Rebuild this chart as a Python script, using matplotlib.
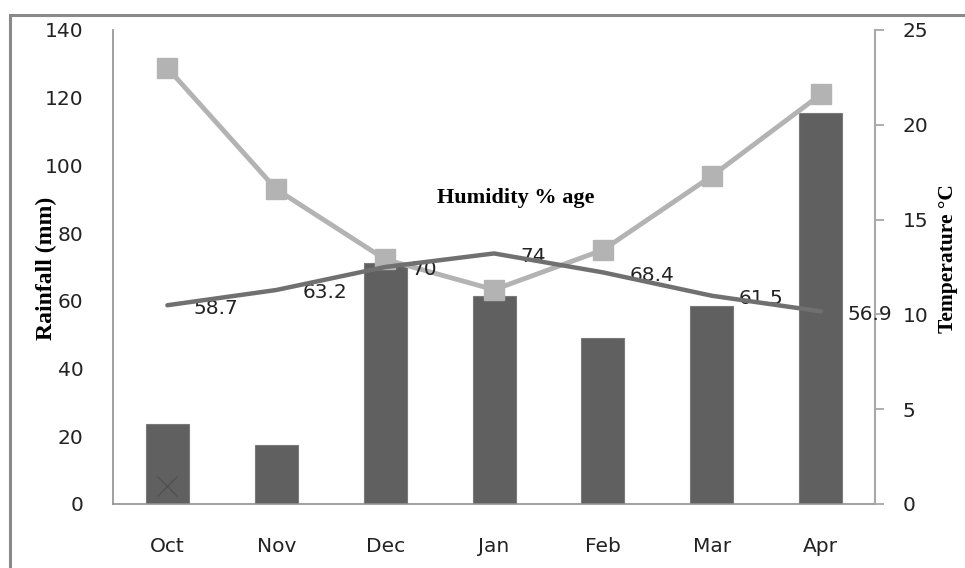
import numpy as np
import matplotlib.pyplot as plt
from matplotlib.patches import Rectangle

months = ['Oct', 'Nov', 'Dec', 'Jan', 'Feb', 'Mar', 'Apr']
rainfall = [23.5, 17.5, 71.2, 61.5, 49, 58.5, 115.5]
humidity = [58.7, 63.2, 70, 74, 68.4, 61.5, 56.9]
temperature = [23.0, 16.6, 12.9, 11.3, 13.4, 17.3, 21.6]
cross_vals = [5.3, np.nan, np.nan, np.nan, np.nan, np.nan, np.nan]

plt.rcParams['font.family'] = ['DejaVu Sans']

fig = plt.figure(figsize=(9.65, 5.68), dpi=100)
ax = fig.add_axes([0.117, 0.1127, 0.79, 0.8345])
x = np.arange(len(months))

# balken curah hujan
ax.bar(x, rainfall, width=0.395, color='#606060', edgecolor='#7a7a7a', linewidth=0.8, zorder=2)
ax.plot(x, cross_vals, linestyle='none', marker='x', markersize=15, markeredgewidth=1.0,
        color='#505050', zorder=3)
ax.set_xlim(-0.5, 6.5)
ax.set_ylim(0, 140)
ax.set_yticks(range(0, 141, 20))
ax.set_xticks(x)
ax.set_xticklabels(months)
ax.tick_params(axis='y', length=0, pad=21, labelsize=14.5, labelcolor='#222222')
ax.tick_params(axis='x', length=0, pad=24, labelsize=14.5, labelcolor='#222222')
for s in ['top', 'right']:
    ax.spines[s].set_visible(False)
ax.spines['left'].set_color('#909090')
ax.spines['bottom'].set_color('#909090')
ax.spines['left'].set_linewidth(1.2)
ax.spines['bottom'].set_linewidth(1.2)

# suhu di sumbu kanan
ax2 = ax.twinx()
ax2.plot(x, temperature, color='#b3b3b3', linewidth=3.5, marker='s', markersize=15,
         zorder=3)
ax2.set_ylim(0, 25)
ax2.set_yticks(range(0, 26, 5))
ax2.tick_params(axis='y', length=6.5, width=1.2, color='#a0a0a0', pad=13, labelsize=14.5,
                labelcolor='#222222')
for s in ['top', 'left', 'bottom']:
    ax2.spines[s].set_visible(False)
ax2.spines['right'].set_color('#a8a8a8')
ax2.spines['right'].set_linewidth(1.5)

# kelembapan di atas semuanya
ax3 = ax.twinx()
ax3.set_ylim(0, 140)
ax3.axis('off')
ax3.plot(x, humidity, color='#707070', linewidth=3.2, solid_capstyle='round', zorder=4)
for xi, h in zip(x, humidity):
    ax3.annotate(f'{h:g}', (xi, h), xytext=(19, -2), textcoords='offset points',
                 ha='left', va='center', fontsize=14.5, color='#222222')

fig.text(0.048, 0.528, 'Rainfall (mm)', rotation=90, ha='center', va='center',
         family='Liberation Serif', fontweight='bold', fontsize=17)
fig.text(0.982, 0.544, 'Temperature \u00b0C', rotation=90, ha='center', va='center',
         family='Liberation Serif', fontweight='bold', fontsize=15.5)
fig.text(0.534, 0.651, 'Humidity % age', ha='center', va='center',
         family='Liberation Serif', fontweight='bold', fontsize=16)

# bingkai luar
fig.patches.append(Rectangle((10 / 965, -0.1), 1.2, 1 - 15 / 568 + 0.1,
                             transform=fig.transFigure, fill=False,
                             edgecolor='#8a8a8a', linewidth=2.2))

fig.savefig('out.png', dpi=100)
